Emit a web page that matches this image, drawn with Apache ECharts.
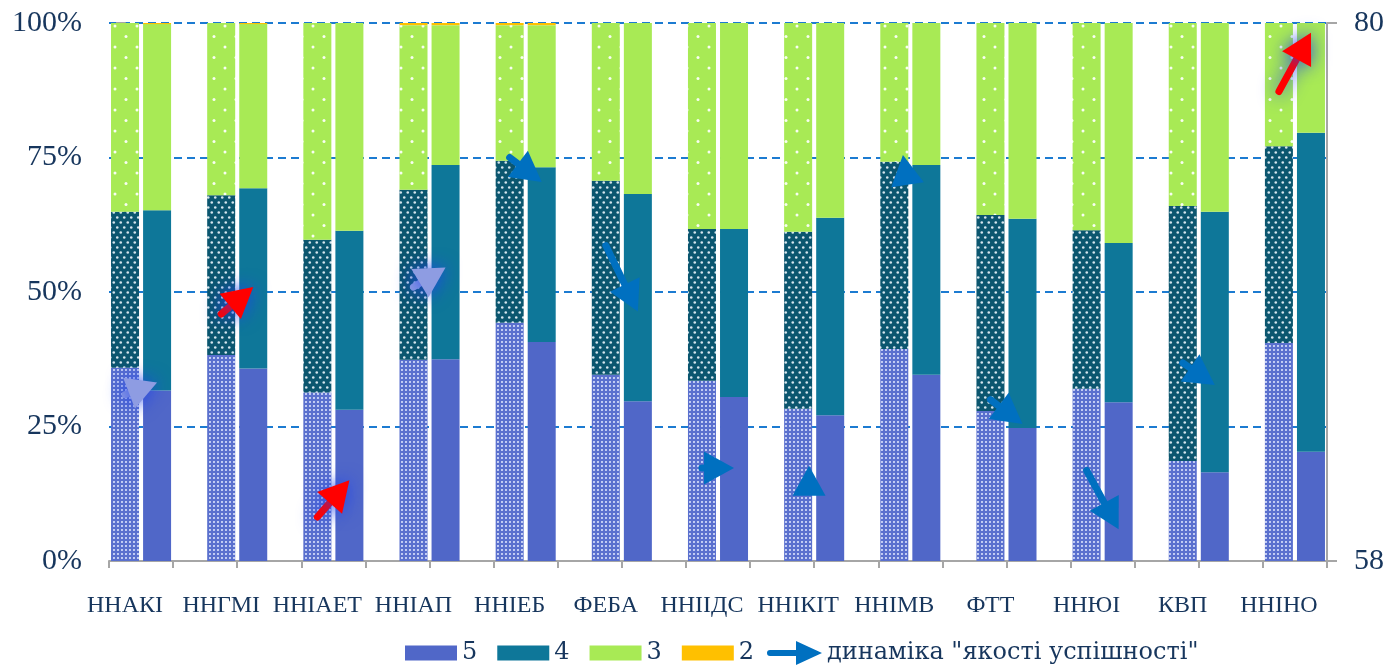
<!DOCTYPE html>
<html>
<head>
<meta charset="utf-8">
<script src="https://cdn.jsdelivr.net/npm/echarts@6/dist/echarts.min.js"></script>
<style>
  html, body { margin: 0; padding: 0; background: #fff; }
  #chart { width: 1390px; height: 666px; }
</style>
</head>
<body>
<div id="chart"></div>
<script>
// Institutes and faculties
const faculties = ['ННАКІ', 'ННГМІ', 'ННІАЕТ', 'ННІАП', 'ННІЕБ', 'ФЕБА', 'ННІІДС', 'ННІКІТ', 'ННІМВ', 'ФТТ', 'ННЮІ', 'КВП', 'ННІНО'];

// Previous year: share of each grade, %
const prev5 = [35.9, 38.3, 31.3, 37.4, 44.3, 34.6, 33.5, 28.3, 39.4, 27.9, 32.0, 18.6, 40.5];
const prev4 = [29.0, 29.7, 28.4, 31.6, 30.1, 36.1, 28.2, 32.9, 34.8, 36.4, 29.5, 47.4, 36.6];
const prev3 = [35.1, 32.0, 40.3, 30.6, 25.2, 29.3, 38.3, 38.8, 25.8, 35.7, 38.5, 34.0, 22.9];
const prev2 = [0, 0, 0, 0.4, 0.4, 0, 0, 0, 0, 0, 0, 0, 0];

// Current year: share of each grade, %
const cur5 = [31.7, 35.8, 28.1, 37.5, 40.7, 29.7, 30.5, 27.1, 34.6, 24.7, 29.5, 16.5, 20.3];
const cur4 = [33.5, 33.5, 33.3, 36.1, 32.5, 38.5, 31.2, 36.7, 39.0, 38.9, 29.6, 48.4, 59.3];
const cur3 = [34.6, 30.5, 38.6, 26.0, 26.4, 31.8, 38.3, 36.2, 26.4, 36.4, 40.9, 35.1, 20.4];
const cur2 = [0.2, 0.2, 0, 0.4, 0.4, 0, 0, 0, 0, 0, 0, 0, 0];

// "Quality of performance" dynamics (right scale): start and end of each arrow
const qualityFrom = [64.8, 68.1, 59.8, 69.2, 74.5, 70.9, 61.8, 60.8, 73.5, 64.6, 61.7, 66.1, 77.2];
const qualityTo   = [65.3, 69.2, 61.3, 70.0, 73.5, 68.2, 61.8, 61.9, 74.6, 63.6, 59.3, 65.2, 79.6];

const gradeNames = ['5', '4', '3', '2'];
const dynamicsName = 'динаміка "якості успішності"';
const percentScale = { min: 0, max: 100, step: 25 };
const dynamicsScale = { min: 58, max: 80, step: 22 };

// ---- styling ----
const NAVY = '#17365D';
const GREY = '#A6A6A6';
const gradeColors = { '5': '#5067C8', '4': '#0E7799', '3': '#A8EA55', '2': '#FFC000' };

function dotPattern(w, h, bg, dots, r, dotColor) {
  const c = document.createElement('canvas');
  c.width = w; c.height = h;
  const g = c.getContext('2d');
  g.fillStyle = bg;
  g.fillRect(0, 0, w, h);
  g.fillStyle = dotColor;
  dots.forEach(([x, y]) => { g.beginPath(); g.arc(x, y, r, 0, Math.PI * 2); g.fill(); });
  return { image: c, repeat: 'repeat' };
}
const prevFills = {
  '5': dotPattern(4, 4, '#5A70CE', [[2, 2]], 1.05, 'rgba(228,234,255,0.95)'),
  '4': dotPattern(7, 10, '#0B566F', [[1.75, 2.5], [5.25, 7.5]], 1.3, 'rgba(232,242,248,0.92)'),
  '3': dotPattern(22, 21, '#A8EA55', [[5, 5], [16, 15.5]], 1.5, 'rgba(255,255,255,0.92)'),
  '2': '#FFC000'
};

const prevByGrade = { '5': prev5, '4': prev4, '3': prev3, '2': prev2 };
const curByGrade = { '5': cur5, '4': cur4, '3': cur3, '2': cur2 };

// Slots along the axis: previous-year bar, current-year bar, empty gap
const slots = [];
faculties.forEach((f, i) => {
  slots.push('p' + i, 'c' + i);
  if (i < faculties.length - 1) slots.push('g' + i);
});

const barSeries = gradeNames.map(g => {
  const data = [];
  faculties.forEach((f, i) => {
    data.push({ value: prevByGrade[g][i], itemStyle: { color: prevFills[g] } });
    data.push(curByGrade[g][i]);
    if (i < faculties.length - 1) data.push('-');
  });
  return {
    name: g,
    type: 'bar',
    stack: 'grades',
    barWidth: 28,
    xAxisIndex: 0,
    yAxisIndex: 0,
    itemStyle: { color: gradeColors[g] },
    data: data
  };
});

// Arrow looks
const tones = {
  blue: { fill: '#0070C0', glow: null },
  red:  { fill: '#FF0000', glow: 'rgba(35,70,235,0.95)' },
  pale: { fill: '#8E9CE2', glow: 'rgba(35,70,235,0.95)' }
};
const arrowTone = ['pale', 'red', 'red', 'pale', 'blue', 'blue', 'blue', 'blue', 'blue', 'blue', 'blue', 'blue', 'red'];
// arrows that stand upright instead of leaning from one bar to the other
const arrowLean = { 7: [0.34, -0.66], 8: [0.4, -0.73] };

const HEAD_LEN = 30, HEAD_HALF = 16.5, SHAFT = 7;

function renderArrow(params, api) {
  const i = api.value(0);
  const lean = arrowLean[i] || [0, 0];
  const a = api.coord([3 * i + lean[0], api.value(1)]);
  const b = api.coord([3 * i + 1 + lean[1], api.value(2)]);
  const dx = b[0] - a[0], dy = b[1] - a[1];
  const len = Math.hypot(dx, dy) || 1;
  const ux = dx / len, uy = dy / len;
  const nx = -uy, ny = ux;
  const bx = b[0] - ux * HEAD_LEN, by = b[1] - uy * HEAD_LEN;
  const tone = tones[arrowTone[i]];
  const shadow = tone.glow ? { shadowBlur: 18, shadowColor: tone.glow } : {};
  const children = [];
  if (len > HEAD_LEN) {
    children.push({
      type: 'line',
      shape: { x1: a[0], y1: a[1], x2: bx + ux * 3, y2: by + uy * 3 },
      style: Object.assign({ stroke: tone.fill, lineWidth: SHAFT, lineCap: 'round' }, shadow)
    });
  }
  children.push({
    type: 'polygon',
    shape: { points: [[b[0], b[1]], [bx + nx * HEAD_HALF, by + ny * HEAD_HALF], [bx - nx * HEAD_HALF, by - ny * HEAD_HALF]] },
    style: Object.assign({ fill: tone.fill }, shadow)
  });
  return { type: 'group', children: children };
}

const arrowSeries = {
  name: dynamicsName,
  type: 'custom',
  coordinateSystem: 'cartesian2d',
  xAxisIndex: 1,
  yAxisIndex: 1,
  clip: false,
  z: 10,
  itemStyle: { color: '#0070C0' },
  encode: { x: 0, y: 1 },
  renderItem: renderArrow,
  data: faculties.map((f, i) => [i, qualityFrom[i], qualityTo[i]])
};

const labelFont = { fontFamily: 'Liberation Serif', color: NAVY };

const option = {
  animation: false,
  backgroundColor: '#ffffff',
  grid: { left: 109, right: 63, top: 23, bottom: 105, containLabel: false, outerBoundsMode: 'none' },
  legend: [
    {
      data: gradeNames,
      left: 400, top: 636,
      icon: 'rect',
      itemWidth: 52, itemHeight: 15, itemGap: 20,
      selectedMode: false,
      textStyle: { fontFamily: 'DejaVu Serif', fontSize: 24, color: NAVY }
    },
    {
      data: [{ name: dynamicsName, icon: 'path://M3,9 L29,9 L29,0 L55,12 L29,24 L29,15 L3,15 A3,3 0 0 1 3,9 Z' }],
      left: 762, top: 636,
      itemWidth: 55, itemHeight: 24,
      selectedMode: false,
      textStyle: { fontFamily: 'DejaVu Serif', fontSize: 24, color: NAVY }
    }
  ],
  xAxis: [
    {
      type: 'category',
      data: slots,
      position: 'bottom',
      boundaryGap: true,
      axisLine: { show: true, onZero: false, lineStyle: { color: GREY, width: 2 } },
      axisTick: { show: true, interval: (idx) => idx % 2 === 0, length: 7, lineStyle: { color: GREY, width: 2 } },
      axisLabel: Object.assign({
        interval: 0,
        fontSize: 24,
        margin: 33,
        formatter: (v) => v.charAt(0) === 'p' ? faculties[+v.slice(1)] : ''
      }, labelFont),
      splitLine: { show: false }
    },
    {
      type: 'value',
      min: -0.5,
      max: slots.length - 0.5,
      position: 'bottom',
      show: false,
      axisLine: { onZero: false }
    }
  ],
  yAxis: [
    {
      type: 'value',
      position: 'left',
      min: percentScale.min, max: percentScale.max, interval: percentScale.step,
      axisLine: { show: true, lineStyle: { color: GREY, width: 2 } },
      axisTick: { show: true, length: 9, lineStyle: { color: GREY, width: 2 } },
      axisLabel: Object.assign({ formatter: '{value}%', fontSize: 30, margin: 27 }, labelFont),
      splitLine: { show: true, lineStyle: { type: [8, 5], color: '#1C7BD1', width: 2 } }
    },
    {
      type: 'value',
      position: 'right',
      min: dynamicsScale.min, max: dynamicsScale.max, interval: dynamicsScale.step,
      axisLine: { show: true, lineStyle: { color: GREY, width: 2 } },
      axisTick: { show: true, length: 10, lineStyle: { color: GREY, width: 2 } },
      axisLabel: Object.assign({ fontSize: 30, margin: 27 }, labelFont),
      splitLine: { show: false }
    }
  ],
  series: barSeries.concat([arrowSeries])
};

const chart = echarts.init(document.getElementById('chart'), null, { renderer: 'canvas' });
chart.setOption(option);
</script>
</body>
</html>
